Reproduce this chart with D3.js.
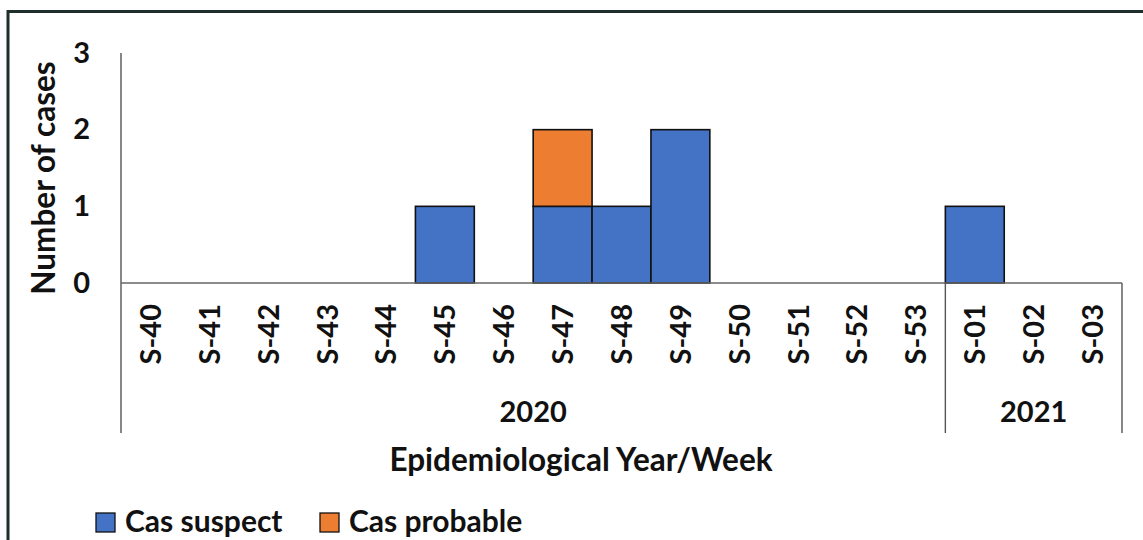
<!DOCTYPE html>
<html>
<head>
<meta charset="utf-8">
<script src="https://cdn.jsdelivr.net/npm/d3@7"></script>
<style>
  body { margin: 0; background: #fff; }
  text { font-family: Lato, "Open Sans", sans-serif; font-weight: bold; fill: #111; }
</style>
</head>
<body>
<script>
// data
const weeks = ['S-40', 'S-41', 'S-42', 'S-43', 'S-44', 'S-45', 'S-46', 'S-47', 'S-48',
               'S-49', 'S-50', 'S-51', 'S-52', 'S-53', 'S-01', 'S-02', 'S-03'];
const years = ['2020', '2020', '2020', '2020', '2020', '2020', '2020', '2020', '2020',
               '2020', '2020', '2020', '2020', '2020', '2021', '2021', '2021'];
const casSuspect = [0, 0, 0, 0, 0, 1, 0, 1, 1, 2, 0, 0, 0, 0, 1, 0, 0];
const casProbable = [0, 0, 0, 0, 0, 0, 0, 1, 0, 0, 0, 0, 0, 0, 0, 0, 0];
const seriesNames = ['Cas suspect', 'Cas probable'];
const colors = ['#4472C4', '#ED7D31'];
const yTicks = [0, 1, 2, 3];

const W = 1143, H = 540;
const plotLeft = 121, plotRight = 1122, plotTop = 53, zeroY = 283, groupBottom = 433;

const svg = d3.select('body').append('svg')
  .attr('width', W).attr('height', H);

// frame around the chart (right/bottom edges fall outside the picture)
svg.append('rect')
  .attr('x', 8).attr('y', 11.5).attr('width', 1160).attr('height', 560)
  .attr('fill', 'none').attr('stroke', '#1e2e2a').attr('stroke-width', 3);

const x = d3.scaleBand().domain(weeks).range([plotLeft, plotRight]).padding(0);
const y = d3.scaleLinear().domain([0, 3]).range([zeroY, plotTop]);

// stacked bars
const rows = weeks.map((w, i) => ({ week: w, 'Cas suspect': casSuspect[i], 'Cas probable': casProbable[i] }));
const stacked = d3.stack().keys(seriesNames)(rows);

svg.append('g').selectAll('g')
  .data(stacked)
  .enter().append('g')
  .attr('fill', (d, i) => colors[i])
  .selectAll('rect')
  .data(d => d.filter(p => p[1] > p[0]))
  .enter().append('rect')
  .attr('x', d => x(d.data.week))
  .attr('width', x.bandwidth())
  .attr('y', d => y(d[1]))
  .attr('height', d => y(d[0]) - y(d[1]))
  .attr('stroke', '#111')
  .attr('stroke-width', 1.6);

// y axis line and labels
svg.append('line')
  .attr('x1', plotLeft).attr('x2', plotLeft).attr('y1', plotTop).attr('y2', groupBottom)
  .attr('stroke', '#555').attr('stroke-width', 1.4);

svg.append('g').selectAll('text')
  .data(yTicks)
  .enter().append('text')
  .attr('x', 90).attr('y', d => y(d))
  .attr('dy', '0.33em')
  .attr('text-anchor', 'end')
  .style('font-size', '29px')
  .text(d => d);

// zero line
svg.append('line')
  .attr('x1', plotLeft).attr('x2', plotRight).attr('y1', zeroY).attr('y2', zeroY)
  .attr('stroke', '#666').attr('stroke-width', 1.6);

// week labels, rotated
svg.append('g').selectAll('text')
  .data(weeks)
  .enter().append('text')
  .attr('transform', d => `translate(${x(d) + x.bandwidth() / 2},304) rotate(-90)`)
  .attr('text-anchor', 'end')
  .attr('dy', '0.36em')
  .style('font-size', '29px')
  .text(d => d);

// year groups
const yearGroups = d3.groups(weeks.map((w, i) => ({ w, yr: years[i] })), d => d.yr);
const sepX = [];
yearGroups.forEach(([yr, items]) => {
  const x0 = x(items[0].w);
  const x1 = x(items[items.length - 1].w) + x.bandwidth();
  sepX.push(x1);
  svg.append('text')
    .attr('x', (x0 + x1) / 2).attr('y', 422)
    .attr('text-anchor', 'middle')
    .style('font-size', '29px')
    .text(yr);
});
svg.append('g').selectAll('line')
  .data(sepX)
  .enter().append('line')
  .attr('x1', d => d).attr('x2', d => d)
  .attr('y1', zeroY).attr('y2', groupBottom)
  .attr('stroke', '#555').attr('stroke-width', 1.4);

// axis titles
svg.append('text')
  .attr('x', 581).attr('y', 471)
  .attr('text-anchor', 'middle')
  .style('font-size', '31.5px')
  .text('Epidemiological Year/Week');

svg.append('text')
  .attr('transform', 'translate(55,178) rotate(-90)')
  .attr('text-anchor', 'middle')
  .style('font-size', '31.5px')
  .text('Number of cases');

// legend
const legendX = [96, 320];
const legend = svg.append('g').selectAll('g')
  .data(seriesNames)
  .enter().append('g')
  .attr('transform', (d, i) => `translate(${legendX[i]},513)`);
legend.append('rect')
  .attr('width', 19).attr('height', 19)
  .attr('fill', (d, i) => colors[i])
  .attr('stroke', '#111').attr('stroke-width', 1.3);
legend.append('text')
  .attr('x', 29).attr('y', 19)
  .style('font-size', '30px')
  .text(d => d);
</script>
</body>
</html>
